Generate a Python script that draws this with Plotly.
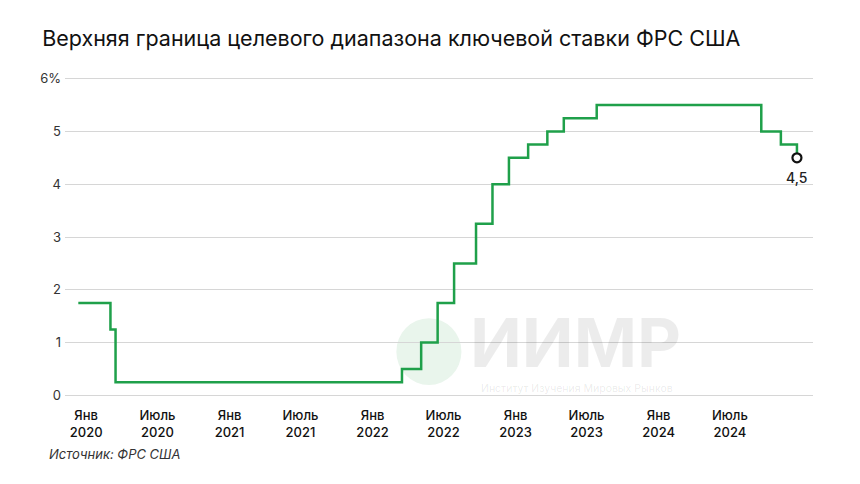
import plotly.graph_objects as go

# Data: FOMC upper bound changes (step dates) and values
dates = ["2019-12-12", "2020-03-03", "2020-03-16", "2022-03-17", "2022-05-05",
         "2022-06-16", "2022-07-28", "2022-09-22", "2022-11-03", "2022-12-15",
         "2023-02-02", "2023-03-23", "2023-05-04", "2023-07-27", "2024-09-19",
         "2024-11-08", "2024-12-19"]
rates = [1.75, 1.25, 0.25, 0.5, 1.0, 1.75, 2.5, 3.25, 4.0, 4.5,
         4.75, 5.0, 5.25, 5.5, 5.0, 4.75, 4.5]

x_tick_vals = ["2020-01-01", "2020-07-01", "2021-01-01", "2021-07-01", "2022-01-01",
               "2022-07-01", "2023-01-01", "2023-07-01", "2024-01-01", "2024-07-01"]
x_tick_text = ["Янв<br>2020", "Июль<br>2020", "Янв<br>2021", "Июль<br>2021", "Янв<br>2022",
               "Июль<br>2022", "Янв<br>2023", "Июль<br>2023", "Янв<br>2024", "Июль<br>2024"]
y_tick_vals = [0, 1, 2, 3, 4, 5, 6]
y_tick_text = ["0", "1", "2", "3", "4", "5", "6%"]

last_label = "4,5"
title = "Верхняя граница целевого диапазона ключевой ставки ФРС США"
source = "Источник: ФРС США"

FONT = "Inter"

fig = go.Figure()

# watermark globe (drawn below data)
fig.add_shape(type="circle", xref="paper", yref="paper", layer="below",
              x0=0.443, x1=0.530, y0=0.04, y1=0.248,
              fillcolor="#e9f5ec", line=dict(width=0))

fig.add_trace(go.Scatter(
    x=dates, y=rates, mode="lines", line_shape="hv",
    line=dict(color="#1fa04a", width=2.5), hoverinfo="skip", showlegend=False))
fig.add_trace(go.Scatter(
    x=[dates[-1]], y=[rates[-1]], mode="markers",
    marker=dict(size=9, color="white", line=dict(color="#111111", width=2.2)),
    showlegend=False, hoverinfo="skip", cliponaxis=False))

annotations = [
    dict(xref="paper", yref="paper", x=0.682, y=0.175, xanchor="center", yanchor="middle",
         text="<b>ИИМР</b>", showarrow=False,
         font=dict(family=FONT, size=68, color="rgba(0,0,0,0.075)")),
    dict(xref="paper", yref="paper", x=0.685, y=0.03, xanchor="center", yanchor="middle",
         text="Институт Изучения Мировых Рынков", showarrow=False,
         font=dict(family=FONT, size=10.5, color="rgba(0,0,0,0.09)")),
    dict(x=dates[-1], y=rates[-1], xref="x", yref="y", text=last_label, showarrow=False,
         xanchor="center", yanchor="middle", yshift=-20,
         font=dict(family=FONT, size=14, color="#222222", weight=500)),
    dict(xref="paper", yref="paper", x=-0.024, y=-0.175, xanchor="left", yanchor="middle",
         text="<i>" + source + "</i>", showarrow=False,
         font=dict(family=FONT, size=13, color="#333333")),
]

fig.update_layout(
    width=860, height=484,
    margin=dict(l=65, r=47, t=76, b=86),
    paper_bgcolor="white", plot_bgcolor="white",
    title=dict(text=title, x=0.049, xanchor="left", y=0.921, yanchor="middle",
               font=dict(family=FONT, size=21.5, color="#111111")),
    xaxis=dict(range=["2019-11-08", "2025-01-29"], tickvals=x_tick_vals,
               ticktext=x_tick_text, showgrid=False, zeroline=False, showline=False,
               tickfont=dict(family=FONT, size=13, color="#111111", weight=500), ticks="",
               ticklabelstandoff=8),
    yaxis=dict(range=[-0.05, 6.05], tickvals=y_tick_vals, ticktext=y_tick_text,
               showgrid=True, gridcolor="#d6d6d6", gridwidth=1, zeroline=False,
               tickfont=dict(family=FONT, size=13, color="#333333"), ticks="",
               ticklabelstandoff=3),
    annotations=annotations,
)

fig.write_html("out.html")
